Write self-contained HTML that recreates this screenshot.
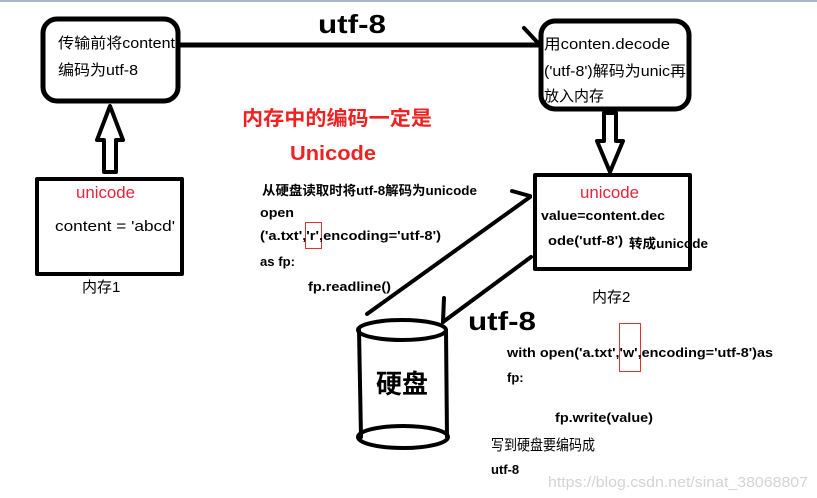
<!DOCTYPE html>
<html><head><meta charset="utf-8"><style>
html,body{margin:0;padding:0;background:#fff;width:817px;height:498px;overflow:hidden}
text{font-family:"Liberation Sans","Noto Sans CJK SC",sans-serif}
</style></head><body>
<svg width="817" height="498" viewBox="0 0 817 498" xmlns="http://www.w3.org/2000/svg">
<rect x="0" y="0" width="817" height="2" fill="#a9b6c8"/>
<g fill="none" stroke="#000" stroke-linecap="round" stroke-linejoin="round">
<rect x="43" y="19" width="135" height="82" rx="14" stroke-width="5"/>
<rect x="541" y="21" width="148" height="88" rx="14" stroke-width="5"/>
<line x1="180" y1="45" x2="539" y2="45" stroke-width="5"/>
<polyline points="524,28 539,44" stroke-width="4"/>
<rect x="37" y="179" width="145" height="95" stroke-width="4"/>
<rect x="535" y="175" width="155" height="94" stroke-width="4"/>
<polygon points="110,106 123,140 116,140 116,172 104,172 104,140 97,140" stroke-width="4"/>
<polygon points="610,172 623,141 616,141 616,113 604,113 604,141 597,141" stroke-width="4"/>
<line x1="367" y1="314" x2="530" y2="197" stroke-width="4"/>
<line x1="512" y1="191" x2="530" y2="196" stroke-width="4"/>
<line x1="531" y1="257" x2="443" y2="322" stroke-width="4"/>
<line x1="444" y1="298" x2="443" y2="322" stroke-width="4"/>
<ellipse cx="402" cy="330" rx="44" ry="10" stroke-width="4"/>
<ellipse cx="403" cy="437" rx="45" ry="11" stroke-width="4"/>
<line x1="359" y1="330" x2="361" y2="437" stroke-width="4"/>
<line x1="446" y1="330" x2="447" y2="437" stroke-width="4"/>
<rect x="305.5" y="222.5" width="16" height="26" stroke="#e03030" stroke-width="1" stroke-linecap="butt"/>
<rect x="619.5" y="323.5" width="21" height="48" stroke="#e03030" stroke-width="1" stroke-linecap="butt"/>
</g>
<g font-size="15" fill="#000">
<text x="58" y="48" textLength="117" lengthAdjust="spacingAndGlyphs">传输前将content</text>
<text x="58" y="75" textLength="80" lengthAdjust="spacingAndGlyphs">编码为utf-8</text>
<text x="544" y="49" textLength="126" lengthAdjust="spacingAndGlyphs">用conten.decode</text>
<text x="544" y="76" textLength="142" lengthAdjust="spacingAndGlyphs">('utf-8')解码为unic再</text>
<text x="544" y="101" textLength="60" lengthAdjust="spacingAndGlyphs">放入内存</text>
<text x="55" y="231" textLength="120" lengthAdjust="spacingAndGlyphs">content = 'abcd'</text>
<text x="82" y="292">内存1</text>
<text x="592" y="302">内存2</text>
<text x="491" y="450" textLength="104" lengthAdjust="spacingAndGlyphs">写到硬盘要编码成</text>
</g>
<g fill="#e8233a" font-size="17">
<text x="76" y="198" textLength="59" lengthAdjust="spacingAndGlyphs">unicode</text>
<text x="580" y="198" textLength="59" lengthAdjust="spacingAndGlyphs">unicode</text>
</g>
<g fill="#ee2222" font-weight="bold" font-size="20">
<text x="242" y="125" textLength="190" lengthAdjust="spacingAndGlyphs">内存中的编码一定是</text>
<text x="290" y="160" textLength="86" lengthAdjust="spacingAndGlyphs">Unicode</text>
</g>
<g font-weight="bold" font-size="26" fill="#000">
<text x="318" y="33" textLength="68" lengthAdjust="spacingAndGlyphs">utf-8</text>
<text x="468" y="330" textLength="68" lengthAdjust="spacingAndGlyphs">utf-8</text>
<text x="376" y="393">硬盘</text>
</g>
<g font-weight="bold" font-size="13" fill="#000">
<text x="262" y="195" textLength="215" lengthAdjust="spacingAndGlyphs">从硬盘读取时将utf-8解码为unicode</text>
<text x="260" y="217" textLength="34" lengthAdjust="spacingAndGlyphs">open</text>
<text x="260" y="240" textLength="181" lengthAdjust="spacingAndGlyphs">('a.txt','r',encoding='utf-8')</text>
<text x="260" y="266" textLength="35" lengthAdjust="spacingAndGlyphs">as fp:</text>
<text x="308" y="291" textLength="83" lengthAdjust="spacingAndGlyphs">fp.readline()</text>
<text x="541" y="220" textLength="124" lengthAdjust="spacingAndGlyphs">value=content.dec</text>
<text x="548" y="245" textLength="75" lengthAdjust="spacingAndGlyphs">ode('utf-8')</text>
<text x="629" y="248" textLength="79" lengthAdjust="spacingAndGlyphs">转成unicode</text>
<text x="507" y="357" textLength="266" lengthAdjust="spacingAndGlyphs">with open('a.txt','w',encoding='utf-8')as</text>
<text x="507" y="382">fp:</text>
<text x="555" y="422" textLength="98" lengthAdjust="spacingAndGlyphs">fp.write(value)</text>
<text x="491" y="474">utf-8</text>
</g>
<text x="548" y="487" font-size="15" fill="#d4d4d4" textLength="260" lengthAdjust="spacingAndGlyphs">https://blog.csdn.net/sinat_38068807</text>
</svg>
</body></html>
